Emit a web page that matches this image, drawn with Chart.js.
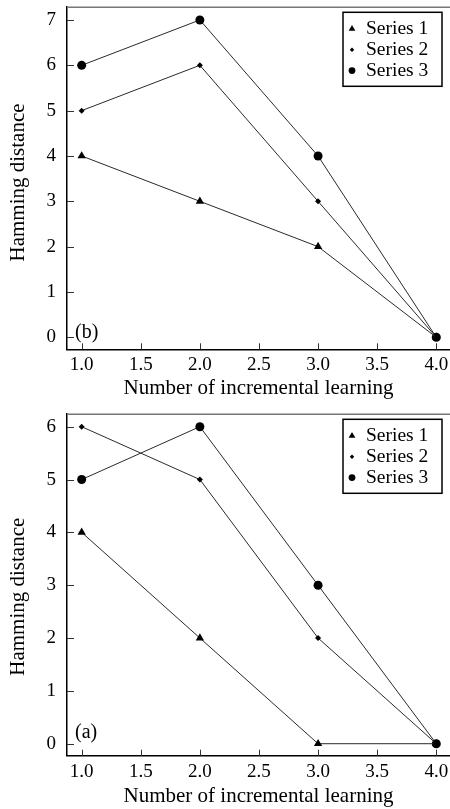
<!DOCTYPE html>
<html>
<head>
<meta charset="utf-8">
<script src="https://cdn.jsdelivr.net/npm/chart.js@4/dist/chart.umd.min.js"></script>
<style>
  html, body { margin: 0; padding: 0; background: #fff; }
  .panel { position: absolute; left: 0; width: 450px; }
  #pB { top: 0; height: 400px; }
  #pA { top: 400px; height: 409px; }
</style>
</head>
<body>
<div class="panel" id="pB"><canvas id="chartB"></canvas></div>
<div class="panel" id="pA"><canvas id="chartA"></canvas></div>
<script>
// x positions of the runs and shared tick labels
const steps = [1, 2, 3, 4];
const xTicks = [1.0, 1.5, 2.0, 2.5, 3.0, 3.5, 4.0];
const seriesNames = ['Series 1', 'Series 2', 'Series 3'];

// panel (b), top
const b1 = [4, 3, 2, 0];
const b2 = [5, 6, 3, 0];
const b3 = [6, 7, 4, 0];
const yTicksB = [0, 1, 2, 3, 4, 5, 6, 7];

// panel (a), bottom
const a1 = [4, 2, 0, 0];
const a2 = [6, 5, 2, 0];
const a3 = [5, 6, 3, 0];
const yTicksA = [0, 1, 2, 3, 4, 5, 6];

const FONT = '"Liberation Serif", "Times New Roman", serif';
const INK = '#000';

// marker shapes, used for the legend box
function mark(ctx, style, x, y, r) {
  ctx.beginPath();
  if (style === 'triangle') {
    ctx.moveTo(x, y - r);
    ctx.lineTo(x + r * 0.866, y + r * 0.5);
    ctx.lineTo(x - r * 0.866, y + r * 0.5);
  } else if (style === 'rectRot') {
    ctx.moveTo(x, y - r);
    ctx.lineTo(x + r, y);
    ctx.lineTo(x, y + r);
    ctx.lineTo(x - r, y);
  } else {
    ctx.arc(x, y, r, 0, Math.PI * 2);
  }
  ctx.closePath();
  ctx.fill();
}

// top frame line, inward ticks, panel tag, y title and boxed legend
const framePlugin = {
  id: 'frame',
  afterDraw(chart, args, o) {
    const { ctx, chartArea: ca } = chart;
    const xs = chart.scales.x, ys = chart.scales.y;
    ctx.save();

    ctx.strokeStyle = '#777';
    ctx.lineWidth = 1.5;
    ctx.beginPath();
    ctx.moveTo(ca.left, ca.top + 0.5);
    ctx.lineTo(ca.right, ca.top + 0.5);
    ctx.stroke();

    ctx.strokeStyle = '#333';
    ctx.lineWidth = 1;
    ctx.beginPath();
    xs.ticks.forEach(t => {
      const p = Math.round(xs.getPixelForValue(t.value)) + 0.5;
      ctx.moveTo(p, ca.bottom);
      ctx.lineTo(p, ca.bottom - 6);
    });
    ys.ticks.forEach(t => {
      const p = Math.round(ys.getPixelForValue(t.value)) + 0.5;
      ctx.moveTo(ca.left, p);
      ctx.lineTo(ca.left + 7, p);
    });
    ctx.stroke();

    ctx.fillStyle = INK;
    ctx.font = '20px ' + FONT;
    ctx.textAlign = 'left';
    ctx.textBaseline = 'middle';
    ctx.fillText(o.tag, ca.left + 8, o.tagY);

    ctx.save();
    ctx.translate(18, o.titleY);
    ctx.rotate(-Math.PI / 2);
    ctx.textAlign = 'center';
    ctx.font = '21px ' + FONT;
    ctx.fillText('Hamming distance', 0, 0);
    ctx.restore();

    // legend
    const lw = 99, lh = 74;
    const lx = ca.right - 8 - lw, ly = ca.top + 5.6;
    ctx.lineWidth = 1.5;
    ctx.strokeStyle = INK;
    ctx.strokeRect(lx, ly, lw, lh);
    const rowY = [16.5, 37.5, 58.3];
    const mr = [3.9, 2.2, 3.4];
    ctx.font = '19.5px ' + FONT;
    chart.data.datasets.forEach((ds, i) => {
      const y = ly + rowY[i];
      mark(ctx, ds.pointStyle, lx + 9, y, mr[i]);
      ctx.fillText(ds.label, lx + 23, y);
    });
    ctx.restore();
  }
};

function makeSet(label, vals, style, r) {
  return {
    label: label,
    data: steps.map((s, i) => ({ x: s, y: vals[i] })),
    pointStyle: style,
    pointRadius: r,
    pointHoverRadius: r,
    pointBackgroundColor: INK,
    pointBorderWidth: 0,
    borderColor: '#2a2a2a',
    borderWidth: 1,
    tension: 0,
    fill: false,
    clip: false
  };
}

function makeChart(id, sets, yTicks, cfg) {
  return new Chart(document.getElementById(id), {
    type: 'line',
    data: {
      datasets: [
        makeSet(seriesNames[0], sets[0], 'triangle', 4.8),
        makeSet(seriesNames[1], sets[1], 'rectRot', 3),
        makeSet(seriesNames[2], sets[2], 'circle', 4.5)
      ]
    },
    plugins: [framePlugin],
    options: {
      responsive: true,
      maintainAspectRatio: false,
      animation: false,
      layout: { autoPadding: false, padding: { top: cfg.top, left: 0, right: 0, bottom: 0 } },
      plugins: {
        legend: { display: false },
        tooltip: { enabled: false },
        frame: { tag: cfg.tag, tagY: cfg.tagY, titleY: cfg.titleY }
      },
      scales: {
        x: {
          type: 'linear',
          min: 0.876,
          max: 4.116,
          afterBuildTicks: s => { s.ticks = xTicks.map(v => ({ value: v })); },
          afterFit: s => { s.height = cfg.axisH; s.paddingLeft = 0; s.paddingRight = 0; },
          grid: { display: false, drawTicks: false },
          border: { display: true, color: INK, width: 1.5 },
          ticks: {
            padding: cfg.xPad,
            color: INK,
            autoSkip: false,
            maxRotation: 0,
            font: { family: FONT, size: 19 },
            callback: v => v.toFixed(1)
          },
          title: {
            display: true,
            text: 'Number of incremental learning',
            color: INK,
            font: { family: FONT, size: 21, lineHeight: 1 },
            padding: { top: 0, bottom: cfg.titlePad }
          }
        },
        y: {
          min: cfg.yMin,
          max: cfg.yMax,
          afterBuildTicks: s => { s.ticks = yTicks.map(v => ({ value: v })); },
          afterFit: s => { s.width = 67; s.paddingTop = 0; s.paddingBottom = 0; },
          grid: { display: false, drawTicks: false },
          border: { display: true, color: INK, width: 1.5 },
          ticks: {
            padding: 11,
            color: INK,
            font: { family: FONT, size: 19 }
          }
        }
      }
    }
  });
}

makeChart('chartB', [b1, b2, b3], yTicksB, {
  top: 6.7, axisH: 50.7, yMin: -0.265, yMax: 7.293,
  xPad: 4, titlePad: 1.5, tag: '(b)', tagY: 333, titleY: 182.5
});
makeChart('chartA', [a1, a2, a3], yTicksA, {
  top: 13.7, axisH: 53.3, yMin: -0.227, yMax: 6.246,
  xPad: 5, titlePad: 2.5, tag: '(a)', tagY: 333, titleY: 196.7
});
</script>
</body>
</html>
